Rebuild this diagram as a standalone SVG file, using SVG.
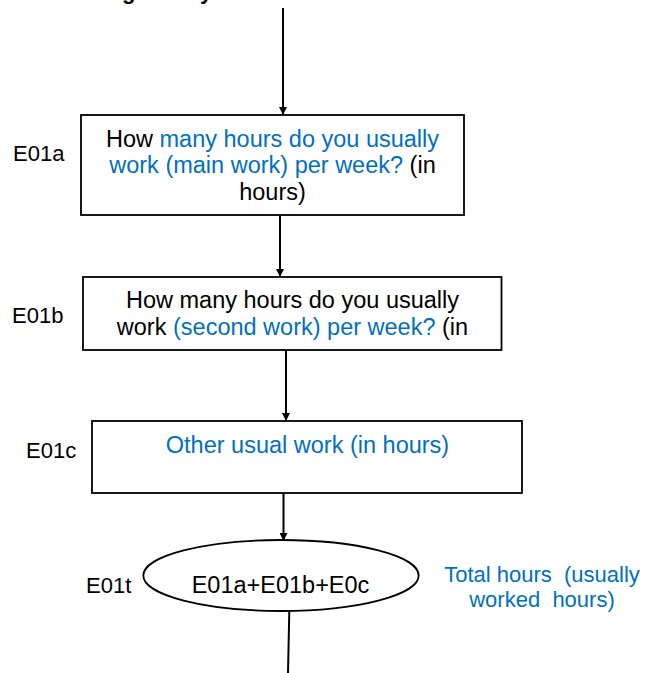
<svg xmlns="http://www.w3.org/2000/svg" width="652" height="673" viewBox="0 0 652 673">
<defs>
<style>
text{font-family:"Liberation Sans",Arial,sans-serif;fill:#000}
.t{font-size:23.5px;text-anchor:middle}
.lb{font-size:22px}
.b{fill:#0070C0}
.box{fill:#fff;stroke:#000;stroke-width:1.8}
.c{stroke:#000;stroke-width:2;fill:none}
</style>
<marker id="ah" viewBox="0 0 10 10" refX="10" refY="5" markerWidth="10" markerHeight="8" markerUnits="userSpaceOnUse" orient="auto">
<path d="M0,0 L10,5 L0,10 z" fill="#000"/>
</marker>
</defs>
<rect width="652" height="673" fill="#fff"/>
<g id="top-fragment">
<text x="122" y="-1" style="font-size:22px;font-weight:bold">g</text>
<text x="200" y="-1" style="font-size:22px;font-weight:bold">y</text>
</g>
<g id="connectors">
<line class="c" x1="283" y1="8" x2="283" y2="115" marker-end="url(#ah)"/>
<line class="c" x1="280" y1="216" x2="280" y2="277" marker-end="url(#ah)"/>
<line class="c" x1="286" y1="350" x2="286" y2="421" marker-end="url(#ah)"/>
<line class="c" x1="283.5" y1="493" x2="283.5" y2="541" marker-end="url(#ah)"/>
<line class="c" x1="289.3" y1="611" x2="288" y2="673"/>
</g>
<g id="E01a">
<text class="lb" x="13" y="161">E01a</text>
<rect class="box" x="81" y="115" width="383" height="100"/>
<text class="t" x="272.5" y="146.5">How <tspan class="b">many hours do you usually</tspan></text>
<text class="t" x="272.5" y="173.2"><tspan class="b">work (main work) per week?</tspan> (in</text>
<text class="t" x="272.5" y="200">hours)</text>
</g>
<g id="E01b">
<text class="lb" x="12" y="323.3">E01b</text>
<rect class="box" x="83" y="277" width="418.5" height="73"/>
<text class="t" x="292.5" y="308.3">How many hours do you usually</text>
<text class="t" x="292.5" y="335">work <tspan class="b">(second work) per week?</tspan> (in</text>
</g>
<g id="E01c">
<text class="lb" x="26" y="458">E01c</text>
<rect class="box" x="92" y="421" width="430" height="72"/>
<text class="t b" x="307.5" y="453.3">Other usual work (in hours)</text>
</g>
<g id="E01t">
<text class="lb" x="86" y="593">E01t</text>
<ellipse class="box" cx="281" cy="575.5" rx="137.7" ry="35.5"/>
<text class="t" x="280.5" y="593.3">E01a+E01b+E0c</text>
<text class="lb b" x="542" y="581.7" text-anchor="middle" xml:space="preserve">Total hours  (usually</text>
<text class="lb b" x="542" y="606.7" text-anchor="middle" xml:space="preserve">worked  hours)</text>
</g>
</svg>
